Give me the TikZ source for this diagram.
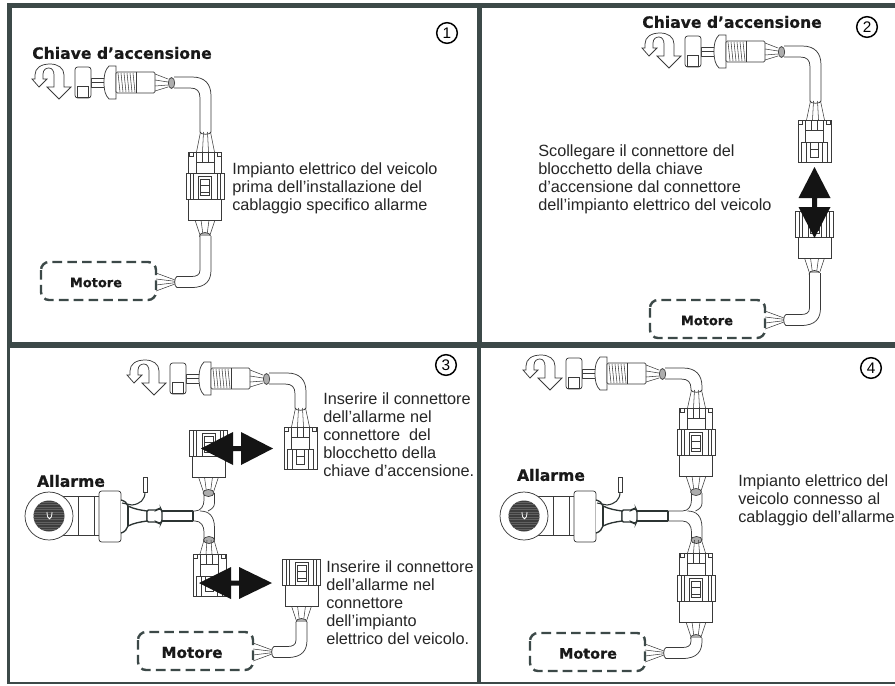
\documentclass[tikz,border=0pt]{standalone}
\usepackage{fontspec}
\setmainfont{Liberation Sans}
\newfontfamily\widebold[BoldFeatures={FakeBold=0.6}]{DejaVu Sans}
\definecolor{framec}{HTML}{3C4948}
\definecolor{linec}{HTML}{3A3A3A}
\definecolor{harnessc}{HTML}{2C3433}
\tikzset{
  thinl/.style={draw=linec,line width=0.55pt,fill=white},
  wirel/.style={draw=linec,line width=0.4pt},
  framel/.style={framec,fill=framec,draw=none},
  infotext/.style={align=left,anchor=north west,inner sep=0pt,text=black!85,font=\fontsize{12.2pt}{13.65pt}\selectfont},
  headtext/.style={inner sep=0pt,text=black!90,font=\widebold\bfseries\fontsize{11.7pt}{13pt}\selectfont},
  numc/.style={circle,draw=black,line width=1.1pt,minimum size=15.5pt,inner sep=0pt,font=\fontsize{11.5pt}{12pt}\selectfont},
  motorbox/.style={draw=framec,line width=1.8pt,dash pattern=on 7.2pt off 3.9pt,rounded corners=6pt},
  bigarrow/.style={fill=black!92,draw=none}
}
% ignition switch, drawn in panel-1 coordinates
\newcommand{\keysw}[3]{%
\begin{scope}[shift={(#1,#2)}]
  \draw[thinl] (43,79) -- (43,74) .. controls (43,69) and (47,68) .. (49,68) .. controls (52,68) and (54,71) .. (54,75) -- (54,87) -- (47,87) -- (59,99) -- (71,87) -- (64,87) -- (64,75) .. controls (64,68) and (58,64) .. (50,64) .. controls (41,64) and (35,68) .. (35,75) -- (35,79) -- (32,79) -- (39,87) -- (47,79) -- cycle;
  \draw[thinl] (91,78) rectangle (105,87);
  \draw[wirel] (91,82) -- (105,82);
  \draw[thinl,rounded corners=2pt] (75,67) rectangle (91,98);
  \draw[thinl] (77,86) rectangle (88,97);
  \draw[thinl] (116,66) -- (109,66) .. controls (105,70) and (104,75) .. (104,82) .. controls (104,90) and (105,95) .. (109,99) -- (116,99) -- cycle;
  \draw[thinl,rounded corners=1pt] (116,72) rectangle (155,93);
  \foreach \tx in {118,121,124,127,130,133} \draw[wirel] (\tx,73) -- (\tx+2,92);
  \draw[wirel] (136,72) -- (136,93);
  \draw[wirel] (155,74) -- (168,79) (155,80) -- (168,82) (155,86) -- (168,85) (155,91) -- (168,87);
  \draw[thinl] (174,77) -- (192,77) .. controls (205,77) and (211,84) .. (211,96) -- (211,#3) .. controls (211,{#3+3}) and (200,{#3+3}) .. (200,#3) -- (200,98) .. controls (200,91) and (197,88) .. (190,88) -- (174,88);
  \draw[draw=linec,fill=black!32,line width=0.5pt] (171.5,83) ellipse (3.2 and 5.5);
\end{scope}}
% wires between a cable end and a connector
\newcommand{\wiresdown}[3]{%
  \draw[wirel] ({#1-5},#2) -- ({#1-9},#3) ({#1-2},#2) -- ({#1-3},#3) ({#1+2},#2) -- ({#1+3},#3) ({#1+5},#2) -- ({#1+9},#3);}
\newcommand{\femconn}[2]{%
\begin{scope}[shift={(#1,#2)}]
  \draw[thinl] (-16.5,0) rectangle (16.5,42);
  \draw[thinl] (-16,0) rectangle (-12,4) (12,0) rectangle (16,4);
  \draw[thinl] (-9,0) rectangle (9,10);
  \draw[wirel] (-3,0) -- (-3,10) (3,0) -- (3,10);
  \draw[thinl] (-9,10) rectangle (9,22);
  \draw[thinl] (-4,22) rectangle (4,37);
  \draw[wirel] (-4,29) -- (4,29);
  \draw[wirel] (-13,22) -- (-13,42) (-8,22) -- (-8,42) (13,22) -- (13,42) (8,22) -- (8,42) (-13,22) -- (-8,22) (8,22) -- (13,22);
\end{scope}}
\newcommand{\maleconn}[2]{%
\begin{scope}[shift={(#1,#2)}]
  \draw[wirel] (-10,47) -- (-5,62) (-4,47) -- (-2,62) (4,47) -- (2,62) (10,47) -- (5,62);
  \draw[thinl] (-19,0) rectangle (19,26);
  \draw[wirel] (-15,0) -- (-15,26) (-12,0) -- (-12,26) (15,0) -- (15,26) (12,0) -- (12,26);
  \draw[thinl] (-6.5,3) rectangle (6.5,26);
  \draw[thinl] (-4.5,6) rectangle (4.5,22);
  \draw[wirel] (-4.5,12) -- (4.5,12) (-4.5,19) -- (4.5,19);
  \draw[thinl] (-16.5,26) rectangle (16.5,47);
  \draw[draw=linec,fill=black!32,line width=0.5pt] (0,63) ellipse (5.5 and 3.5);
\end{scope}}
% cable from an oval to the dashed box: oval x, oval y, box left, box top, text size, text x, node name
\newcommand{\motorpart}[7]{%
\begin{scope}
  \pgfmathsetmacro{\Yc}{#4+20}
  \pgfmathsetmacro{\Rb}{#3+115}
  \pgfmathsetmacro{\Xs}{\Rb+19}
  \draw[wirel] (\Rb,\Yc-9) -- (\Xs,\Yc-2) (\Rb,\Yc-3) -- (\Xs,\Yc-0.7) (\Rb,\Yc+3) -- (\Xs,\Yc+0.7) (\Rb,\Yc+9) -- (\Xs,\Yc+2);
  \draw[thinl] ({#1-5.5},#2) -- ({#1-5.5},\Yc-12) .. controls ({#1-5.5},\Yc-7) and ({#1-9},\Yc-5.5) .. ({#1-14},\Yc-5.5) -- (\Xs+2,\Yc-5.5) .. controls (\Xs-1,\Yc-5.5) and (\Xs-1,\Yc+5.5) .. (\Xs+2,\Yc+5.5) -- ({#1-14},\Yc+5.5) .. controls ({#1+1},\Yc+5.5) and ({#1+5.5},\Yc-2) .. ({#1+5.5},\Yc-12) -- ({#1+5.5},#2);
  \draw[motorbox] (#3,#4) rectangle (\Rb,#4+38);
  \node[headtext,font=\widebold\bfseries\fontsize{#5pt}{#5pt}\selectfont] (#7) at (#6,#4+20.5) {Motore};
\end{scope}}
% alarm unit and the harness up to the junction
\newcommand{\alarmunit}[2]{%
\begin{scope}[shift={(#1,0)}]
  \draw[thinl] (49,496) rectangle (99,535);
  \draw[wirel,line width=0.55pt] (78,496) -- (78,535) (94,496) -- (94,535);
  \draw[thinl] (49,516) circle (24);
  \fill[black!76] (49,516) circle (15.5);
  \begin{scope}
    \clip (49,516) circle (15.5);
    \foreach \hy in {502,504.5,...,530} \draw[black!62,line width=0.3pt] (33,\hy) -- (65,\hy);
  \end{scope}
  \draw[white,line width=0.6pt] (47,512) .. controls (47,521) and (52,521) .. (52,512);
  \draw[thinl,rounded corners=2pt] (99,491) rectangle (121,542);
  \draw[harnessc,line width=1pt,fill=white] (121,500) .. controls (125,501) and (127,503) .. (128,506) .. controls (134,509) and (140,510) .. (147,511) -- (147,521) .. controls (140,522) and (134,523) .. (128,526) .. controls (127,529) and (125,532) .. (121,533);
  \draw[harnessc,line width=1pt] (128,506) -- (128,526);
  \draw[harnessc,line width=1pt,fill=white,rounded corners=1pt] (147,510) -- (157,510) -- (158,509) -- (161,509) -- (162,511) -- (162,521) -- (161,523) -- (158,523) -- (157,522) -- (147,522) -- cycle;
  \draw[harnessc,line width=1.1pt] (193,511) -- (193,521);
  \draw[draw=linec,line width=0.5pt,fill=white] (143,477) rectangle (147,492);
  \draw[harnessc,line width=0.8pt] (145,492) .. controls (145,500) and (140,504) .. (132,505) -- (122,503);
\end{scope}}
\newcommand{\junction}[2]{%
  \draw[harnessc,line width=1.1pt] ({#1+162},511) -- ({#1+193},511) ({#1+162},521) -- ({#1+193},521);
  \draw[thinl,fill=none] ({#1+193},511) -- ({#2-14},511) .. controls ({#2-8},511) and ({#2-5},506) .. ({#2-5},500) -- ({#2-5},493);
  \draw[thinl,fill=none] ({#1+193},521) -- ({#2-14},521) .. controls ({#2-8},521) and ({#2-5},526) .. ({#2-5},532) -- ({#2-5},540);
  \draw[thinl,fill=none] ({#2+5.5},493) -- ({#2+5.5},503) .. controls ({#2+5.5},507) and ({#2+3},509) .. ({#2-1},511);
  \draw[thinl,fill=none] ({#2-9},511) .. controls ({#2},511) and ({#2+5.5},516) .. ({#2+5.5},528) -- ({#2+5.5},540);
  \draw[draw=linec,fill=black!32,line width=0.5pt] (#2,540) ellipse (5.5 and 3.5);}
\begin{document}
\begin{tikzpicture}[x=0.75pt,y=-0.75pt]
\useasboundingbox (0,0) rectangle (895,685);
\fill[white] (0,0) rectangle (895,685);
% frame
\fill[framel] (7,3) rectangle (895,8);
\fill[framel] (7,3) rectangle (12,345);
\fill[framel] (7,342) rectangle (895,348);
\fill[framel] (477,3) rectangle (482,345);
\fill[framel] (477,345) rectangle (481,684);
\fill[framel] (7,345) rectangle (9.5,684);
\fill[framel] (7,682) rectangle (895,684);
% numbers
\node[numc] (n1) at (447,33) {1};
\node[numc] (n2) at (867,27) {2};
\node[numc] (n3) at (446,365) {3};
\node[numc] (n4) at (871,368) {4};
% panel 1
\node[headtext] (k1) at (122,53) {Chiave d’accensione};
\keysw{0}{0}{132}
\wiresdown{205.5}{132}{152}
\femconn{205}{152}
\maleconn{205}{173}
\motorpart{205.5}{236}{41}{262}{9.7}{96}{m1}
\node[infotext] (t1) at (232,162) {Impianto elettrico del veicolo\\prima dell’installazione del\\cablaggio specifico allarme};
% panel 2
\node[headtext] (k2) at (732,22) {Chiave d’accensione};
\keysw{610}{-31}{132}
\wiresdown{815.5}{101}{120}
\femconn{814.5}{120}
\maleconn{814.5}{211}
\motorpart{815}{273}{650}{300}{9.7}{707}{m2}
\fill[bigarrow] (814.5,167) -- (830.5,198) -- (817,198) -- (817,207) -- (830.5,207) -- (814.5,238) -- (798.5,207) -- (812,207) -- (812,198) -- (798.5,198) -- cycle;
\node[infotext] (t2) at (538,144) {Scollegare il connettore del\\blocchetto della chiave\\d’accensione dal connettore\\dell’impianto elettrico del veicolo};
% panel 3
\keysw{95}{296}{112}
\wiresdown{300.5}{408}{427}
\femconn{300.5}{427}
\alarmunit{0}{0}
\junction{0}{209}
\maleconn{208.5}{430}
\wiresdown{209}{540}{554}
\femconn{209.5}{554}
\maleconn{301.5}{559}
\motorpart{301.5}{622}{138}{632}{11.4}{192}{m3}
\fill[bigarrow] (201,448.5) -- (233,432) -- (233,446) -- (241,446) -- (241,432) -- (273,448.5) -- (241,465) -- (241,451) -- (233,451) -- (233,465) -- cycle;
\fill[bigarrow] (199,583) -- (231,567) -- (231,580.5) -- (239,580.5) -- (239,567) -- (272,583) -- (239,599) -- (239,585.5) -- (231,585.5) -- (231,599) -- cycle;
\node[headtext] (a3) at (71,481) {Allarme};
\node[infotext] (t3) at (323,392) {Inserire il connettore\\dell’allarme nel\\connettore~~del\\blocchetto della\\chiave d’accensione.};
\node[infotext] (t3b) at (326,560) {Inserire il connettore\\dell’allarme nel\\connettore\\dell’impianto\\elettrico del veicolo.};
% panel 4
\keysw{491}{291}{99}
\wiresdown{696.5}{390}{408}
\femconn{696}{408}
\alarmunit{475}{0}
\junction{475}{696.5}
\maleconn{696}{429}
\wiresdown{696.5}{540}{553}
\femconn{696}{553}
\maleconn{696}{575}
\motorpart{696.5}{638}{530}{633}{10.8}{588}{m4}
\node[headtext] (a4) at (551,475) {Allarme};
\node[infotext] (t4) at (738,474) {Impianto elettrico del\\veicolo connesso al\\cablaggio dell’allarme};
\end{tikzpicture}
\end{document}
